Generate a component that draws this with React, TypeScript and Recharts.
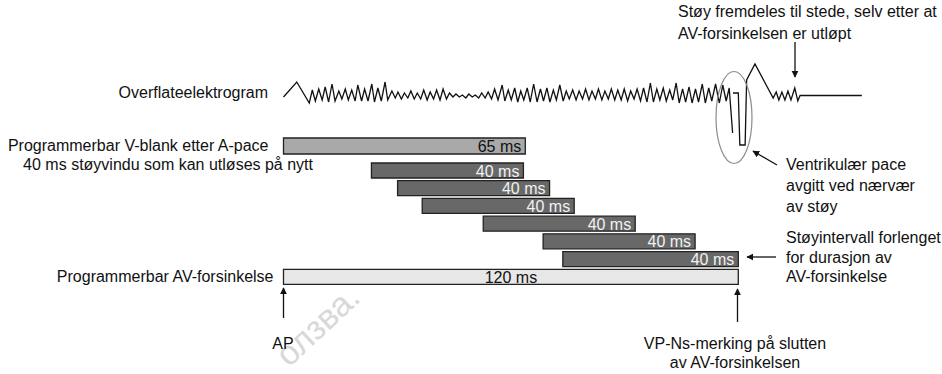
import React from "react";
import { Bar, BarChart, Cell, LabelList, Line, LineChart, XAxis, YAxis } from "recharts";

const W = 942;
const H = 374;
const FONT = '"Liberation Sans", Arial, Helvetica, sans-serif';
const FS = 16;

// one time axis (ms) shared by every chart
const T_DOMAIN: [number, number] = [0, 160];
const LEFT = 283.5;
const RIGHT = 52.1;

// surface electrogram: [ms, relative amplitude]
const egmNoise: [number, number][] = [
  [0, 0], [3.5, 15], [6.8, -6],
  [7.6, 7], [8.4, -4], [9.3, 8], [10.2, -3], [11.0, 10], [11.9, -5], [12.8, 13], [13.6, -4],
  [14.6, 6], [15.4, -2], [16.3, 8], [17.1, -3], [18.0, 7], [18.9, -4], [19.6, 12], [20.6, -4],
  [21.4, 8], [22.3, -4], [23.3, 13], [24.0, -5], [24.9, 9], [25.8, -4], [26.8, 15], [27.5, -3],
  [28.6, 6], [29.5, -1], [30.2, 5], [31.1, -2], [31.9, 4], [32.8, -1], [33.6, 6], [34.5, -2],
  [35.3, 4], [36.2, -2], [37.0, 7], [37.9, -3], [38.7, 5], [39.6, -2], [40.4, 7], [41.3, -3],
  [42.1, 8], [43.0, -2], [43.8, 4], [44.7, 0], [45.5, 3], [46.4, 0], [47.2, 2], [48.1, -1],
  [48.9, 3], [49.8, 0], [50.6, 2], [51.5, -1], [52.3, 4], [53.2, -1], [54.0, 5], [54.9, -2],
  [55.7, 8], [56.6, -3], [57.7, 12], [58.4, -4], [59.3, 7], [60.1, -3], [61.0, 9], [61.8, -5],
  [62.6, 6], [63.4, -3], [64.3, 9], [65.1, -5], [66.0, 13], [66.9, -5], [67.8, 8], [68.6, -4],
  [69.5, 9], [70.3, -5], [71.2, 7], [72.0, -3], [72.9, 12], [73.8, -4], [74.6, 6], [75.4, -2],
  [76.3, 7], [77.2, -3], [78.0, 6], [78.9, -2], [79.7, 8], [80.6, -3], [81.4, 6], [82.3, -2],
  [83.1, 8], [84.0, -3], [84.8, 6], [85.7, -2], [86.5, 8], [87.4, -3], [88.2, 7], [89.1, -3],
  [89.9, 8], [90.8, -4], [91.6, 6], [92.5, -2], [93.3, 8], [94.2, -4], [95.0, 9], [95.9, -5],
  [96.8, 14], [97.6, -5], [98.5, 8], [99.3, -3], [100.2, 9], [101.0, -4], [101.9, 7], [102.7, -3],
  [103.6, 14], [104.4, -6], [105.3, 8], [106.1, -5], [107.0, 10], [107.8, -6], [108.7, 8], [109.5, -5],
  [110.5, 13], [111.3, -6], [112.2, 9], [113.0, -4], [114.0, 13], [115.0, -6], [115.9, 12], [116.8, -4],
  [117.6, 9], [118.5, -36]
];
const egmPace: [number, number][] = [
  [118.6, 4], [120.0, 4], [120.4, -48], [121.8, -48], [122.2, 17], [124.4, 33], [129.2, -1],
  [130.0, 5], [130.7, -3], [131.5, 5], [132.3, -3], [133.1, 6], [133.9, -3], [134.9, 9],
  [135.7, -4], [136.3, 1.5], [152.6, 1.5]
];

// timing rows
const rowKeys = ["vblank", "n1", "n2", "n3", "n4", "n5", "n6", "av"];
const rowLabels = [
  "Programmerbar V-blank etter A-pace",
  "40 ms støyvindu som kan utløses på nytt",
  "", "", "", "", "",
  "Programmerbar AV-forsinkelse"
];
const rowStart = [0, 23.2, 30.1, 36.6, 52.7, 68.5, 73.7, 0];
const rowEnd = [63.8, 63.3, 70.2, 76.7, 92.8, 108.6, 120, 120];
const rowText = ["65 ms", "40 ms", "40 ms", "40 ms", "40 ms", "40 ms", "40 ms", "120 ms"];
const rowKind = ["vblank", "noise", "noise", "noise", "noise", "noise", "noise", "av"];

const fillByKind: Record<string, string> = { vblank: "#a9a9a9", noise: "#686868", av: "#e7e7e7" };
const textByKind: Record<string, string> = { vblank: "#111", noise: "#f2f2f2", av: "#111" };

const egmData = [
  ...egmNoise.map(([t, v]) => ({ t, v })),
  { t: 118.55, v: null },
  ...egmPace.map(([t, v]) => ({ t, v }))
];

const rows = rowKeys.map((key, i) => ({
  key,
  range: [rowStart[i], rowEnd[i]],
  text: rowText[i],
  kind: rowKind[i]
}));

function RowTick(props: any) {
  const { x, y, payload } = props;
  const i = rowKeys.indexOf(payload.value);
  const label = rowLabels[i];
  if (!label) return null;
  if (i === 1) {
    return (
      <text x={313} y={y - 6} textAnchor="end" dominantBaseline="central" fontSize={FS} fill="#111" fontFamily={FONT}>
        {label}
      </text>
    );
  }
  return (
    <text x={i === 7 ? x + 5 : x} y={y - 1} textAnchor="end" dominantBaseline="central" fontSize={FS} fill="#111" fontFamily={FONT}>
      {label}
    </text>
  );
}

function BarText(props: any) {
  const vb = props.viewBox || props;
  const { x, y, width, height } = vb;
  const kind = props.kindOf(props.index);
  const centred = kind === "av";
  return (
    <text
      x={centred ? x + width / 2 : x + width - 4}
      y={y + height / 2 + 0.5}
      textAnchor={centred ? "middle" : "end"}
      dominantBaseline="central"
      fontSize={FS}
      fill={textByKind[kind || "noise"]}
      fontFamily={FONT}
    >
      {props.value}
    </text>
  );
}

function Timeline({ data, top, height, padTop, barSize }: { data: typeof rows; top: number; height: number; padTop: number; barSize: number }) {
  return (
    <div style={{ position: "absolute", left: 0, top }}>
      <BarChart width={W} height={height} layout="vertical" data={data} margin={{ top: padTop, right: RIGHT, bottom: 0, left: 0 }} barSize={barSize}>
        <XAxis type="number" domain={T_DOMAIN} hide />
        <YAxis
          type="category"
          dataKey="key"
          width={LEFT}
          axisLine={false}
          tickLine={false}
          tickSize={0}
          tickMargin={15}
          tick={<RowTick />}
          interval={0}
        />
        <Bar dataKey="range" stroke="#222" strokeWidth={1.3} isAnimationActive={false}>
          {data.map((r) => (
            <Cell key={r.key} fill={fillByKind[r.kind]} />
          ))}
          <LabelList dataKey="text" content={<BarText kindOf={(i: number) => data[i]?.kind} />} />
        </Bar>
      </BarChart>
    </div>
  );
}

function Arrow({ x1, y1, x2, y2 }: { x1: number; y1: number; x2: number; y2: number }) {
  return <line x1={x1} y1={y1} x2={x2} y2={y2} stroke="#111" strokeWidth={1.3} markerEnd="url(#head)" />;
}

export default function App() {
  const txt = { fontFamily: FONT, fontSize: FS, fill: "#111" };
  return (
    <div style={{ position: "absolute", left: 0, top: 0, width: W, height: H, background: "#fff", overflow: "hidden" }}>
      <div style={{ position: "absolute", left: 0, top: 0 }}>
        <LineChart width={W} height={H} data={egmData} margin={{ top: 50, right: RIGHT, bottom: 204, left: LEFT }}>
          <XAxis type="number" dataKey="t" domain={T_DOMAIN} hide />
          <YAxis type="number" domain={[-73, 47]} hide />
          <Line type="linear" dataKey="v" stroke="#111" strokeWidth={1.3} dot={false} connectNulls={false} isAnimationActive={false} />
        </LineChart>
      </div>

      <Timeline data={rows.slice(0, 1)} top={130} height={32} padTop={0} barSize={16} />
      <Timeline data={rows.slice(1)} top={140} height={146} padTop={22} barSize={15} />

      <svg width={W} height={H} style={{ position: "absolute", left: 0, top: 0, pointerEvents: "none" }}>
        <defs>
          <marker id="head" viewBox="0 0 10 10" refX="9" refY="5" markerWidth="7" markerHeight="9" markerUnits="userSpaceOnUse" orient="auto">
            <path d="M0,0 L10,5 L0,10 z" fill="#111" />
          </marker>
        </defs>

        <text x={289} y={368} transform="rotate(-43 289 368)" fontFamily={FONT} fontSize={34} fill="#d8d8d8">
          олзва.
        </text>

        <text {...txt} x={268} y={92} textAnchor="end" dominantBaseline="central">Overflateelektrogram</text>

        <ellipse cx={734} cy={117.5} rx={18} ry={46} fill="none" stroke="#8c8c8c" strokeWidth={1.2} />

        <text {...txt} x={678} y={11} dominantBaseline="central">Støy fremdeles til stede, selv etter at</text>
        <text {...txt} x={678} y={33} dominantBaseline="central">AV-forsinkelsen er utløpt</text>
        <Arrow x1={795} y1={42} x2={795} y2={77} />

        <Arrow x1={777} y1={165} x2={753} y2={151} />
        <text {...txt} x={786} y={164} dominantBaseline="central">Ventrikulær pace</text>
        <text {...txt} x={786} y={185} dominantBaseline="central">avgitt ved nærvær</text>
        <text {...txt} x={786} y={206} dominantBaseline="central">av støy</text>

        <Arrow x1={776} y1={257} x2={747} y2={257} />
        <text {...txt} x={786} y={237} dominantBaseline="central">Støyintervall forlenget</text>
        <text {...txt} x={786} y={257} dominantBaseline="central">for durasjon av</text>
        <text {...txt} x={786} y={276} dominantBaseline="central">AV-forsinkelse</text>

        <Arrow x1={283.5} y1={318} x2={283.5} y2={288} />
        <text {...txt} x={283} y={343} textAnchor="middle" dominantBaseline="central">AP</text>

        <Arrow x1={737.5} y1={322} x2={737.5} y2={289} />
        <text {...txt} x={735} y={343} textAnchor="middle" dominantBaseline="central">VP-Ns-merking på slutten</text>
        <text {...txt} x={735} y={362} textAnchor="middle" dominantBaseline="central">av AV-forsinkelsen</text>
      </svg>
    </div>
  );
}
